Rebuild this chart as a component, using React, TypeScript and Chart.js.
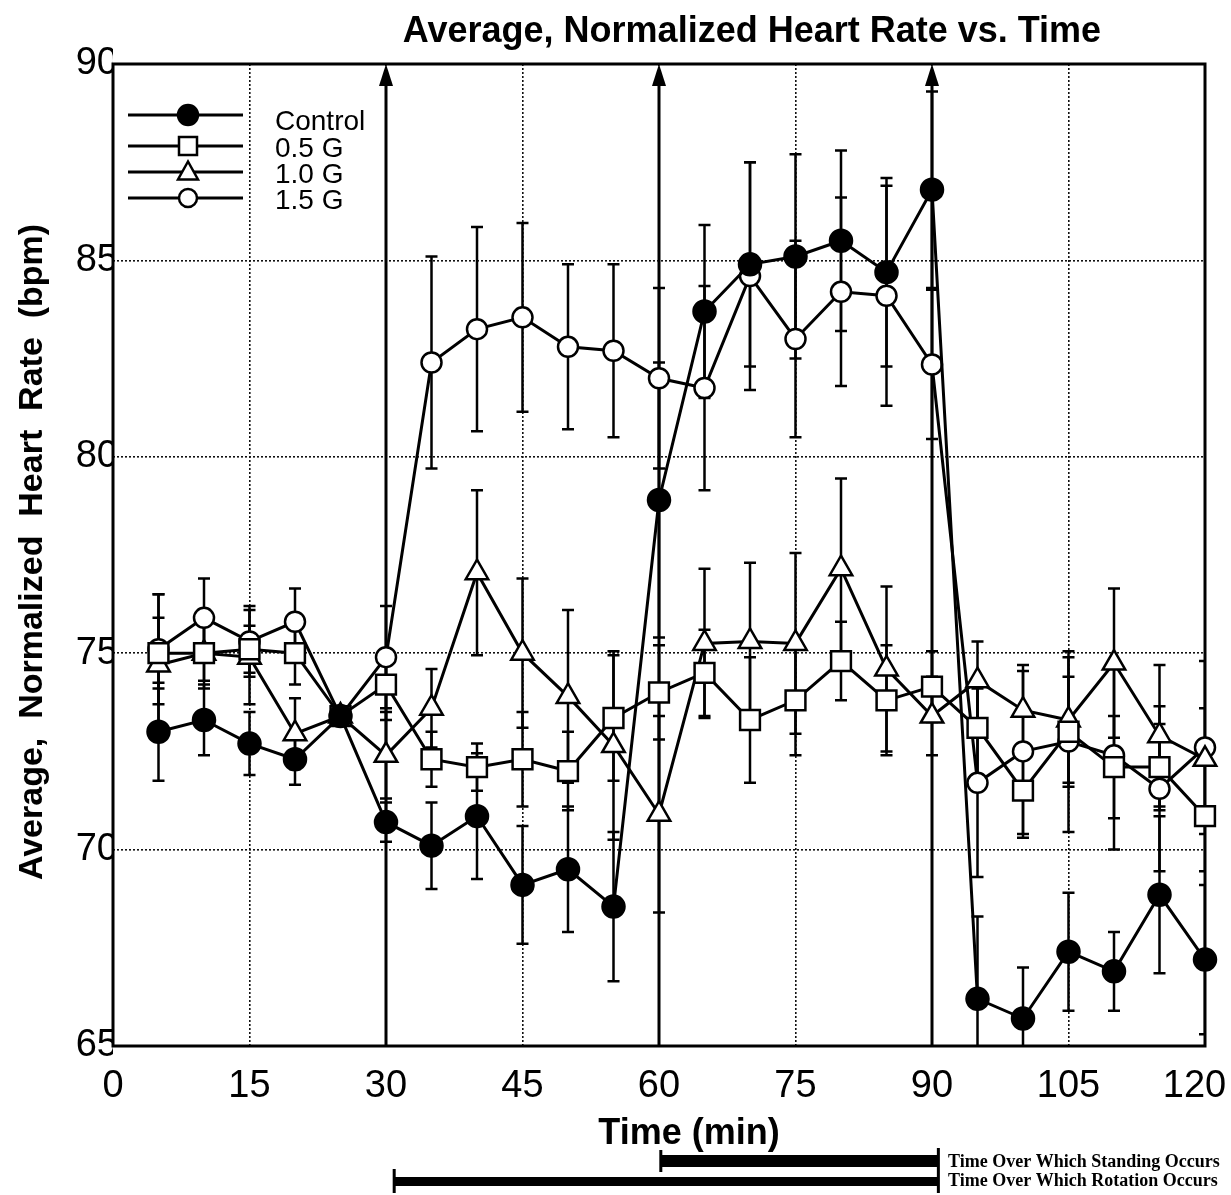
import React, { useEffect, useRef } from 'react';
import { Chart, registerables } from 'chart.js';

Chart.register(...registerables);

const titleText = 'Average, Normalized Heart Rate vs. Time';
const yTitleText = 'Average,  Normalized  Heart  Rate  (bpm)';
const xTitleText = 'Time (min)';

const times = [5, 10, 15, 20, 25, 30, 35, 40, 45, 50, 55, 60, 65, 70, 75, 80, 85, 90, 95, 100, 105, 110, 115, 120];
const seriesLabels = ['Control', '0.5 G', '1.0 G', '1.5 G'];

const control = [73.0, 73.3, 72.7, 72.3, 73.4, 70.7, 70.1, 70.85, 69.1, 69.5, 68.55, 78.9, 83.7, 84.9, 85.1, 85.5, 84.7, 86.8, 66.2, 65.7, 67.4, 66.9, 68.85, 67.2];
const controlErr = [1.25, 0.9, 0.8, 0.65, 0, 0.5, 1.1, 1.6, 1.5, 1.6, 1.9, 3.5, 2.2, 2.6, 2.6, 2.3, 2.4, 2.5, 2.1, 1.3, 1.5, 1.0, 2.0, 1.9];

const g05 = [75.0, 75.0, 75.1, 75.0, 73.4, 74.2, 72.3, 72.1, 72.3, 72.0, 73.35, 74.0, 74.5, 73.3, 73.8, 74.8, 73.8, 74.15, 73.1, 71.5, 73.0, 72.1, 72.1, 70.85];
const g05Err = [0.9, 0.7, 0.6, 0.8, 0, 0.9, 0.7, 0.6, 1.2, 1.0, 1.6, 1.2, 1.1, 1.6, 1.4, 1.0, 1.4, 0.9, 1.2, 1.1, 1.4, 1.3, 1.1, 1.4];

const g10 = [74.7, 75.0, 74.9, 72.95, 73.4, 72.4, 73.6, 77.05, 75.0, 73.9, 72.65, 70.9, 75.25, 75.3, 75.25, 77.15, 74.6, 73.4, 74.3, 73.55, 73.3, 74.75, 72.9, 72.3];
const g10Err = [1.8, 0.9, 1.2, 0.9, 0, 1.1, 1.0, 2.1, 1.9, 2.2, 2.4, 2.5, 1.9, 2.0, 2.3, 2.3, 2.1, 1.0, 1.0, 1.0, 1.6, 1.9, 1.8, 1.3];

const g15 = [75.1, 75.9, 75.3, 75.8, 73.4, 74.9, 82.4, 83.25, 83.55, 82.8, 82.7, 82.0, 81.75, 84.6, 83.0, 84.2, 84.1, 82.35, 71.7, 72.5, 72.75, 72.4, 71.55, 72.6];
const g15Err = [1.4, 1.0, 0.9, 0.85, 0, 1.3, 2.7, 2.6, 2.4, 2.1, 2.2, 2.3, 2.6, 2.9, 2.5, 2.4, 2.8, 1.9, 2.4, 2.2, 2.3, 2.4, 2.1, 2.2];

const xTickStep = 15;
const yTickStep = 5;
const xRange = [0, 120];
const yRange = [65, 90];

const arrowTimes = [30, 60, 90];
const periodLabels = ['Time Over Which Standing Occurs', 'Time Over Which Rotation Occurs'];
const standingSpan = [60.2, 90.7];
const rotationSpan = [30.9, 90.7];

const seriesValues = [control, g05, g10, g15];
const seriesErrors = [controlErr, g05Err, g10Err, g15Err];
const pointStyles = ['circle', 'rect', 'triangle', 'circle'];
const pointFills = ['#000', '#fff', '#fff', '#fff'];
const pointRadii = [11, 14, 13, 10];

function drawMarker(ctx: CanvasRenderingContext2D, style: string, x: number, y: number, size: number, fill: string) {
  ctx.beginPath();
  if (style === 'circle') {
    ctx.arc(x, y, size, 0, Math.PI * 2);
  } else if (style === 'rect') {
    ctx.rect(x - size, y - size, size * 2, size * 2);
  } else {
    ctx.moveTo(x, y - size * 1.05);
    ctx.lineTo(x - size, y + size * 0.75);
    ctx.lineTo(x + size, y + size * 0.75);
    ctx.closePath();
  }
  ctx.fillStyle = fill;
  ctx.fill();
  ctx.lineWidth = 2.5;
  ctx.strokeStyle = '#000';
  ctx.stroke();
}

const overlay = {
  id: 'overlay',
  beforeDatasetsDraw(chart: any) {
    const { ctx, chartArea: a, scales } = chart;
    const x = scales.x;
    const y = scales.y;
    ctx.save();
    ctx.strokeStyle = '#000';
    ctx.fillStyle = '#000';
    ctx.lineWidth = 3;
    ctx.setLineDash([]);
    arrowTimes.forEach((t) => {
      const px = x.getPixelForValue(t);
      ctx.beginPath();
      ctx.moveTo(px, a.bottom);
      ctx.lineTo(px, a.top + 16);
      ctx.stroke();
      ctx.beginPath();
      ctx.moveTo(px, a.top);
      ctx.lineTo(px - 7, a.top + 22);
      ctx.lineTo(px + 7, a.top + 22);
      ctx.closePath();
      ctx.fill();
    });
    ctx.lineWidth = 3;
    ctx.strokeRect(a.left, a.top, a.right - a.left, a.bottom - a.top);

    ctx.beginPath();
    ctx.rect(a.left, a.top, a.right - a.left, a.bottom - a.top);
    ctx.clip();
    ctx.lineWidth = 2.5;
    seriesValues.forEach((vals, si) => {
      const errs = seriesErrors[si];
      times.forEach((t, j) => {
        const e = errs[j];
        if (!e) return;
        const px = x.getPixelForValue(t);
        const top = y.getPixelForValue(vals[j] + e);
        const bot = y.getPixelForValue(vals[j] - e);
        ctx.beginPath();
        ctx.moveTo(px, top);
        ctx.lineTo(px, bot);
        ctx.moveTo(px - 6, top);
        ctx.lineTo(px + 6, top);
        ctx.moveTo(px - 6, bot);
        ctx.lineTo(px + 6, bot);
        ctx.stroke();
      });
    });
    ctx.restore();
  },
  afterDraw(chart: any) {
    const { ctx, scales } = chart;
    const x = scales.x;
    ctx.save();
    ctx.fillStyle = '#000';
    ctx.strokeStyle = '#000';
    ctx.setLineDash([]);

    // title
    ctx.font = "bold 36px 'Liberation Sans', Arial, sans-serif";
    ctx.textAlign = 'center';
    ctx.textBaseline = 'alphabetic';
    ctx.fillText(titleText, 752, 42);

    // x title
    ctx.font = "bold 36px 'Liberation Sans', Arial, sans-serif";
    ctx.fillText(xTitleText, 689, 1144);

    // y title
    ctx.save();
    ctx.translate(42, 552);
    ctx.rotate(-Math.PI / 2);
    ctx.font = "bold 34px 'Liberation Sans', Arial, sans-serif";
    ctx.textAlign = 'center';
    ctx.fillText(yTitleText, 0, 0);
    ctx.restore();

    // legend
    const rowY = [115, 146, 172, 198];
    const textY = [130, 157, 183, 209];
    const legendMarker = [10, 9, 10, 9];
    seriesLabels.forEach((lab, i) => {
      ctx.lineWidth = 3;
      ctx.strokeStyle = '#000';
      ctx.beginPath();
      ctx.moveTo(128, rowY[i]);
      ctx.lineTo(243, rowY[i]);
      ctx.stroke();
      drawMarker(ctx, pointStyles[i], 188, rowY[i], legendMarker[i], pointFills[i]);
      ctx.fillStyle = '#000';
      ctx.font = "28px 'Liberation Sans', Arial, sans-serif";
      ctx.textAlign = 'left';
      ctx.fillText(lab, 275, textY[i]);
    });

    // period bars
    const sx0 = x.getPixelForValue(standingSpan[0]);
    const sx1 = x.getPixelForValue(standingSpan[1]);
    const rx0 = x.getPixelForValue(rotationSpan[0]);
    const rx1 = x.getPixelForValue(rotationSpan[1]);
    ctx.fillStyle = '#000';
    ctx.fillRect(sx0, 1155, sx1 - sx0, 12);
    ctx.fillRect(rx0, 1177, rx1 - rx0, 9);
    ctx.lineWidth = 3;
    ctx.beginPath();
    ctx.moveTo(sx0, 1150);
    ctx.lineTo(sx0, 1172);
    ctx.moveTo(rx0, 1169);
    ctx.lineTo(rx0, 1193);
    ctx.moveTo(sx1, 1148);
    ctx.lineTo(sx1, 1193);
    ctx.stroke();
    ctx.font = "bold 18px 'Liberation Serif', 'Times New Roman', serif";
    ctx.textAlign = 'left';
    ctx.fillText(periodLabels[0], 948, 1167, 280);
    ctx.fillText(periodLabels[1], 948, 1186, 280);
    ctx.restore();
  },
};

export default function App() {
  const ref = useRef<HTMLCanvasElement | null>(null);
  useEffect(() => {
    document.body.style.margin = '0';
    const canvas = ref.current;
    if (!canvas) return;
    const datasets = seriesValues.map((vals, i) => ({
      label: seriesLabels[i],
      data: times.map((t, j) => ({ x: t, y: vals[j] })),
      borderColor: '#000',
      borderWidth: 3,
      pointStyle: pointStyles[i],
      pointRadius: pointRadii[i],
      pointBackgroundColor: pointFills[i],
      pointBorderColor: '#000',
      pointBorderWidth: 2.5,
      tension: 0,
      clip: false,
      fill: false,
    }));
    const tickFont = { family: "'Liberation Sans', Arial, sans-serif", size: 38 };
    const chart = new Chart(canvas, {
      type: 'line',
      data: { datasets },
      plugins: [overlay],
      options: {
        responsive: false,
        animation: false,
        devicePixelRatio: 1,
        layout: { padding: { top: 64, right: 26, bottom: 0, left: 0 } },
        plugins: { legend: { display: false }, title: { display: false }, tooltip: { enabled: false } },
        scales: {
          x: {
            type: 'linear',
            min: xRange[0],
            max: xRange[1],
            ticks: {
              stepSize: xTickStep,
              color: '#000',
              font: tickFont,
              padding: 18,
              maxRotation: 0,
              callback: (v: any) => (v === xRange[1] ? String(v) + '\u00a0\u00a0' : String(v)),
            },
            grid: { color: '#111', lineWidth: 1.6, drawTicks: false, tickLength: 0 },
            border: { display: false, dash: [2, 2] },
            afterFit: (s: any) => { s.height = 149; s.paddingLeft = 0; s.paddingRight = 0; },
          },
          y: {
            type: 'linear',
            min: yRange[0],
            max: yRange[1],
            ticks: { stepSize: yTickStep, color: '#000', font: tickFont, padding: -5 },
            grid: { color: '#111', lineWidth: 1.6, drawTicks: false, tickLength: 0 },
            border: { display: false, dash: [2, 2] },
            afterFit: (s: any) => { s.width = 113; s.paddingTop = 0; s.paddingBottom = 0; },
          },
        },
      } as any,
    });
    return () => chart.destroy();
  }, []);
  return (
    <div style={{ position: 'absolute', left: 0, top: 0, width: 1231, height: 1195, background: '#fff' }}>
      <canvas ref={ref} width={1231} height={1195} style={{ display: 'block' }} />
    </div>
  );
}
